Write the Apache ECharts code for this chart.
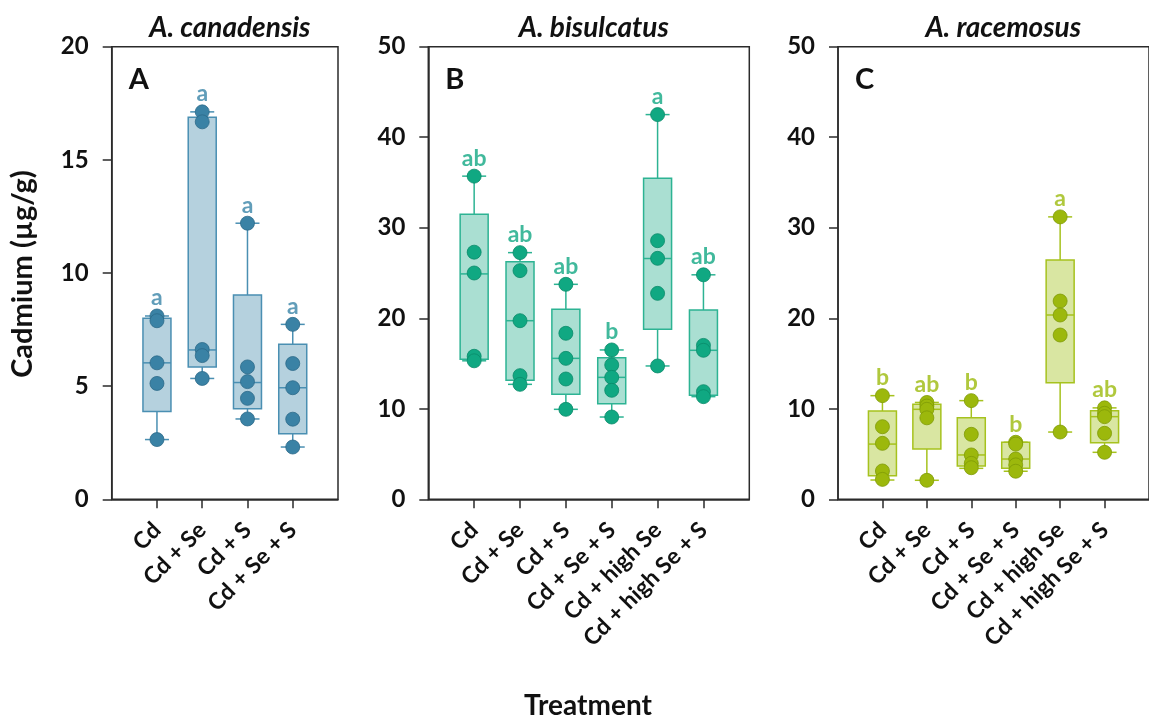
<!DOCTYPE html>
<html>
<head>
<meta charset="utf-8">
<script src="https://cdn.jsdelivr.net/npm/echarts@6/dist/echarts.min.js"></script>
<style>
html,body{margin:0;padding:0;background:#fff;}
#chart{width:1149px;height:717px;}
</style>
</head>
<body>
<div id="chart"></div>
<script>
// ---------------- data ----------------
const catsA = ['Cd', 'Cd + Se', 'Cd + S', 'Cd + Se + S'];
const catsBC = ['Cd', 'Cd + Se', 'Cd + S', 'Cd + Se + S', 'Cd + high Se', 'Cd + high Se + S'];

const pointsA = [
  [8.10, 7.89, 6.03, 5.12, 2.64],
  [17.12, 16.68, 6.62, 6.35, 5.34],
  [12.2, 5.85, 5.2, 4.46, 3.55],
  [7.73, 6.0, 4.93, 3.54, 2.31]
];
// low, q1, median, q3, high
const boxA = [
  [2.64, 3.88, 6.03, 8.0, 8.10],
  [5.34, 5.85, 6.6, 16.88, 17.12],
  [3.55, 4.0, 5.16, 9.03, 12.2],
  [2.31, 2.9, 4.93, 6.85, 7.73]
];
const lettersA = ['a', 'a', 'a', 'a'];

const pointsB = [
  [35.7, 27.3, 25.0, 15.8, 15.3],
  [27.25, 25.26, 19.73, 13.66, 12.7],
  [23.75, 18.34, 15.57, 13.29, 9.94],
  [16.5, 14.84, 13.47, 12.04, 9.09],
  [42.5, 28.57, 26.62, 22.75, 14.73],
  [24.8, 17.0, 16.46, 11.89, 11.34]
];
const boxB = [
  [15.3, 15.46, 24.9, 31.5, 35.7],
  [12.7, 13.14, 19.73, 26.25, 27.25],
  [9.94, 11.6, 15.57, 21.0, 23.75],
  [9.09, 10.56, 13.47, 15.65, 16.5],
  [14.73, 18.78, 26.6, 35.46, 42.5],
  [11.34, 11.49, 16.46, 20.9, 24.8]
];
const lettersB = ['ab', 'ab', 'ab', 'b', 'a', 'ab'];

const pointsC = [
  [11.45, 8.02, 6.18, 3.13, 2.2],
  [10.7, 10.3, 9.94, 9.0, 2.1],
  [10.9, 7.18, 4.9, 3.97, 3.49],
  [6.3, 6.1, 4.45, 3.8, 3.1],
  [31.2, 21.9, 20.36, 18.15, 7.43],
  [10.1, 9.5, 9.13, 7.29, 5.19]
];
const boxC = [
  [2.13, 2.6, 6.1, 9.75, 11.45],
  [2.1, 5.56, 9.94, 10.5, 10.7],
  [3.42, 3.68, 4.9, 9.02, 10.9],
  [3.1, 3.42, 4.45, 6.3, 6.3],
  [7.43, 12.88, 20.36, 26.44, 31.2],
  [5.19, 6.25, 9.13, 9.79, 10.1]
];
const lettersC = ['b', 'ab', 'b', 'b', 'a', 'ab'];

const titles = ['A. canadensis', 'A. bisulcatus', 'A. racemosus'];
const panelTags = ['A', 'B', 'C'];
const yMax = [20, 50, 50];
const yStep = [5, 10, 10];

// ---------------- styling ----------------
const FONT = 'Lato, "Open Sans", sans-serif';
const AXC = '#2b2b2b';
const palettes = [
  {dot: '#3a82a5', dotBorder: '#2c6a89', fill: '#b5d1de', stroke: '#4a8fb2', text: '#3a84a8'},
  {dot: '#10a882', dotBorder: '#0a8a6a', fill: '#aadfd2', stroke: '#2db393', text: '#12a783'},
  {dot: '#9cb80c', dotBorder: '#7f9a06', fill: '#d9e6a2', stroke: '#a6c21e', text: '#9cba0c'}
];
const grids = [
  {left: 111.7, top: 46.7, width: 226.3, height: 452.6},
  {left: 428.3, top: 46.7, width: 321, height: 452.6},
  {left: 838, top: 46.7, width: 320.5, height: 452.6}
];

const panels = [
  {cats: catsA, pts: pointsA, box: boxA, letters: lettersA},
  {cats: catsBC, pts: pointsB, box: boxB, letters: lettersB},
  {cats: catsBC, pts: pointsC, box: boxC, letters: lettersC}
];

const option = {
  animation: false,
  backgroundColor: '#fff',
  grid: [], xAxis: [], yAxis: [], series: [], title: [],
  graphic: [
    {type: 'text', x: 23, y: 274, rotation: Math.PI / 2,
     style: {text: 'Cadmium (µg/g)', font: 'bold 29px ' + FONT, fill: '#111', align: 'center', verticalAlign: 'middle'}},
    {type: 'text', x: 588, y: 706,
     style: {text: 'Treatment', font: 'bold 28px ' + FONT, fill: '#111', align: 'center', verticalAlign: 'middle'}}
  ]
};

panels.forEach((p, i) => {
  const g = grids[i];
  const pal = palettes[i];
  const n = p.cats.length;
  const ticks = p.cats.map((_, k) => k + 1);
  option.grid.push(Object.assign({show: true, borderColor: AXC, borderWidth: 1.5, containLabel: false}, g));
  option.title.push({
    text: titles[i], left: g.left + g.width / 2, top: 9, textAlign: 'center',
    textStyle: {fontFamily: FONT, fontSize: 28, fontWeight: 'bold', fontStyle: 'italic', color: '#111'}
  });
  option.title.push({
    text: panelTags[i], left: g.left + 12, top: g.top + 13,
    textStyle: {fontFamily: FONT, fontSize: 29, fontWeight: 'bold', color: '#111'}
  });
  option.xAxis.push({
    type: 'value', gridIndex: i, min: 0, max: n + 1, interval: 1,
    splitLine: {show: false},
    axisLine: {show: true, lineStyle: {color: AXC, width: 1.5}},
    axisTick: {show: true, length: 9, lineStyle: {color: AXC, width: 1.5}, customValues: ticks},
    axisLabel: {
      show: true, customValues: ticks, rotate: 45, margin: 27,
      fontFamily: FONT, fontSize: 23, fontWeight: 'bold', color: '#111',
      formatter: (v) => p.cats[Math.round(v) - 1] || ''
    }
  });
  option.yAxis.push({
    type: 'value', gridIndex: i, min: 0, max: yMax[i], interval: yStep[i],
    splitLine: {show: false},
    axisLine: {show: true, lineStyle: {color: AXC, width: 1.5}},
    axisTick: {show: true, length: 9, lineStyle: {color: AXC, width: 1.5}},
    axisLabel: {margin: 23, fontFamily: FONT, fontSize: 24, fontWeight: 'bold', color: '#111'}
  });
  // boxes
  option.series.push({
    type: 'custom', xAxisIndex: i, yAxisIndex: i, z: 2,
    data: p.box.map((b, k) => [k + 1].concat(b)),
    encode: {x: 0, y: [1, 2, 3, 4, 5]},
    renderItem: function (params, api) {
      const x = api.value(0);
      const lo = api.coord([x, api.value(1)]);
      const q1 = api.coord([x, api.value(2)]);
      const md = api.coord([x, api.value(3)]);
      const q3 = api.coord([x, api.value(4)]);
      const hi = api.coord([x, api.value(5)]);
      const cx = lo[0], hw = 14, cw = 12;
      const ls = {stroke: pal.stroke, lineWidth: 1.5, fill: null};
      return {
        type: 'group',
        children: [
          {type: 'line', shape: {x1: cx, y1: lo[1], x2: cx, y2: q1[1]}, style: ls},
          {type: 'line', shape: {x1: cx, y1: q3[1], x2: cx, y2: hi[1]}, style: ls},
          {type: 'line', shape: {x1: cx - cw, y1: lo[1], x2: cx + cw, y2: lo[1]}, style: ls},
          {type: 'line', shape: {x1: cx - cw, y1: hi[1], x2: cx + cw, y2: hi[1]}, style: ls},
          {type: 'rect', shape: {x: cx - hw, y: q3[1], width: 2 * hw, height: q1[1] - q3[1]},
           style: {fill: pal.fill, stroke: pal.stroke, lineWidth: 1.5}},
          {type: 'line', shape: {x1: cx - hw, y1: md[1], x2: cx + hw, y2: md[1]}, style: ls}
        ]
      };
    }
  });
  // points
  const pts = [];
  p.pts.forEach((arr, k) => arr.forEach(v => pts.push([k + 1, v])));
  option.series.push({
    type: 'scatter', xAxisIndex: i, yAxisIndex: i, z: 3,
    symbolSize: 14, data: pts,
    itemStyle: {color: pal.dot, borderColor: pal.dotBorder, borderWidth: 0.8, opacity: 1}
  });
  // significance letters
  option.series.push({
    type: 'scatter', xAxisIndex: i, yAxisIndex: i, z: 4,
    symbolSize: 1, itemStyle: {color: 'rgba(0,0,0,0)'},
    data: p.box.map((b, k) => ({value: [k + 1, b[4]], name: p.letters[k]})),
    label: {
      show: true, position: 'inside', offset: [0, -18],
      formatter: (d) => d.name,
      fontFamily: FONT, fontSize: 23, fontWeight: 'bold', color: pal.text
    }
  });
});

const chart = echarts.init(document.getElementById('chart'), null, {renderer: 'canvas'});
chart.setOption(option);
</script>
</body>
</html>
